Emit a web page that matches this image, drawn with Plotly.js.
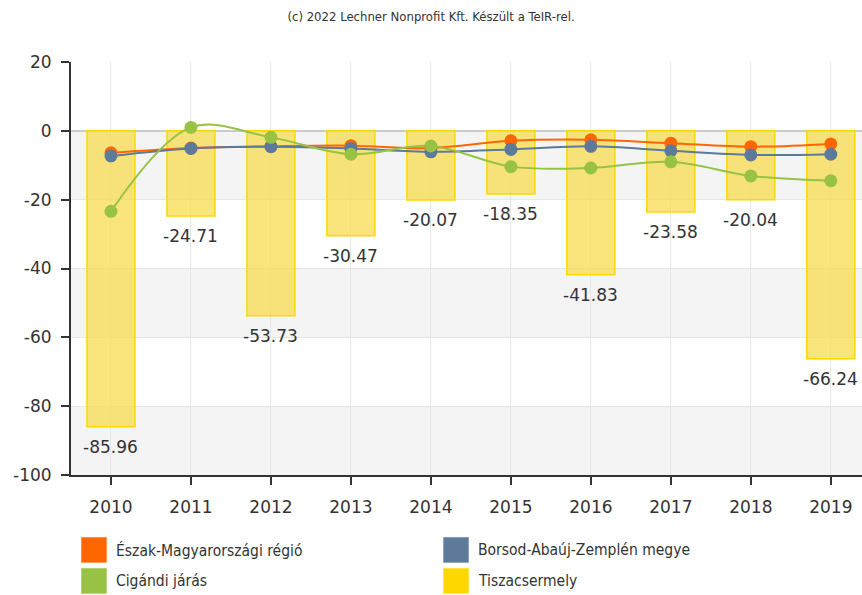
<!DOCTYPE html>
<html><head><meta charset="utf-8">
<script src="https://cdn.plot.ly/plotly-3.0.1.min.js"></script>
<style>body{margin:0;padding:0;background:#fff}#chart{width:862px;height:595px}</style>
</head><body><div id="chart"></div>
<script>
const years = ["2010","2011","2012","2013","2014","2015","2016","2017","2018","2019"];
const eszak = [-6.4, -5.0, -4.5, -4.3, -5.0, -2.9, -2.6, -3.6, -4.6, -3.8];
const borsod = [-7.3, -5.1, -4.6, -5.1, -6.1, -5.4, -4.5, -5.8, -7.0, -6.8];
const cigand = [-23.4, 1.0, -1.9, -6.8, -4.4, -10.4, -10.8, -9.0, -13.1, -14.5];
const tisza = [-85.96, -24.71, -53.73, -30.47, -20.07, -18.35, -41.83, -23.58, -20.04, -66.24];
const names = ["Észak-Magyarországi régió", "Borsod-Abaúj-Zemplén megye", "Cigándi járás", "Tiszacsermely"];
const yTicks = [20, 0, -20, -40, -60, -80, -100];
const colors = ["#ff6600", "#5d7a9b", "#97c244", "#ffd700"];
const bands = [[0,-20],[-40,-60],[-80,-100]];

const traces = [];
traces.push({type:"bar", x:years, y:tisza, width:0.6, name:names[3], showlegend:false,
  marker:{color:"rgba(248,220,80,0.75)", line:{color:"#ffd700", width:1.5}}, hoverinfo:"skip"});
[[eszak,0],[borsod,1],[cigand,2]].forEach(([arr,i])=>{
  traces.push({type:"scatter", mode:"lines+markers", x:years, y:arr, name:names[i], showlegend:false,
    line:{color:colors[i], width:2, shape:"spline", smoothing:1},
    marker:{color:colors[i], size:13}, cliponaxis:false});
});

const shapes = bands.map(b=>({type:"rect", xref:"paper", yref:"y", x0:0, x1:1, y0:b[0], y1:b[1],
  fillcolor:"#f4f4f4", line:{width:0}, layer:"below"}));

const annotations = tisza.map((v,i)=>({x:i, y:v, xref:"x", yref:"y", text:v.toFixed(2),
  showarrow:false, yanchor:"top", yshift:-8, font:{size:17, color:"#333", family:"'DejaVu Sans', sans-serif"}}));

// custom legend (2 columns x 2 rows), order: Észak, Borsod / Cigándi, Tiszacsermely
const legCols = [[0.0126, 0.0455, 0.0544], [0.4703, 0.5032, 0.5120]];
const legRows = [[-0.150, -0.213, -0.1816], [-0.225, -0.288, -0.2567]];
names.forEach((n,i)=>{
  const c = legCols[i%2], r = legRows[Math.floor(i/2)];
  shapes.push({type:"rect", xref:"paper", yref:"paper", x0:c[0], x1:c[1], y0:r[0], y1:r[1],
    fillcolor:colors[i], line:{color:"rgba(255,255,255,0.6)", width:1}});
  annotations.push({xref:"paper", yref:"paper", x:c[2], y:r[2], xanchor:"left", yanchor:"middle",
    text:n, showarrow:false, font:{size:15.5, family:"'DejaVu Sans Condensed', 'DejaVu Sans', sans-serif", color:"#333"}});
});

const layout = {
  width:862, height:595,
  margin:{l:71, r:0, t:62, b:120, autoexpand:false},
  paper_bgcolor:"#fff", plot_bgcolor:"rgba(0,0,0,0)",
  font:{family:"'DejaVu Sans', sans-serif", color:"#333"},
  title:{text:"(c) 2022 Lechner Nonprofit Kft. Készült a TeIR-rel.", x:0.5, xanchor:"center", y:0.98, yanchor:"top",
    font:{size:13, family:"'DejaVu Sans Condensed', 'DejaVu Sans', sans-serif", color:"#333"}},
  xaxis:{type:"category", range:[-0.5, 9.39], showgrid:true, gridcolor:"#e6e6e6", gridwidth:1,
    showline:true, linecolor:"#333", linewidth:2, ticks:"outside", ticklen:8, tickcolor:"#333", tickwidth:2,
    tickfont:{size:17, color:"#333"}, ticklabelstandoff:8, fixedrange:true},
  yaxis:{range:[-100,20], tickmode:"array", tickvals:yTicks, ticktext:yTicks.map(String),
    showgrid:true, gridcolor:"#e6e6e6", gridwidth:1,
    zeroline:true, zerolinecolor:"#cccccc", zerolinewidth:2,
    showline:true, linecolor:"#333", linewidth:2, ticks:"outside", ticklen:8, tickcolor:"#333", tickwidth:2,
    tickfont:{size:17, color:"#333"}, ticklabelstandoff:6, fixedrange:true},
  shapes:shapes, annotations:annotations,
  showlegend:false,
  bargap:0.4
};
Plotly.newPlot("chart", traces, layout, {displayModeBar:false, staticPlot:true});
</script></body></html>
